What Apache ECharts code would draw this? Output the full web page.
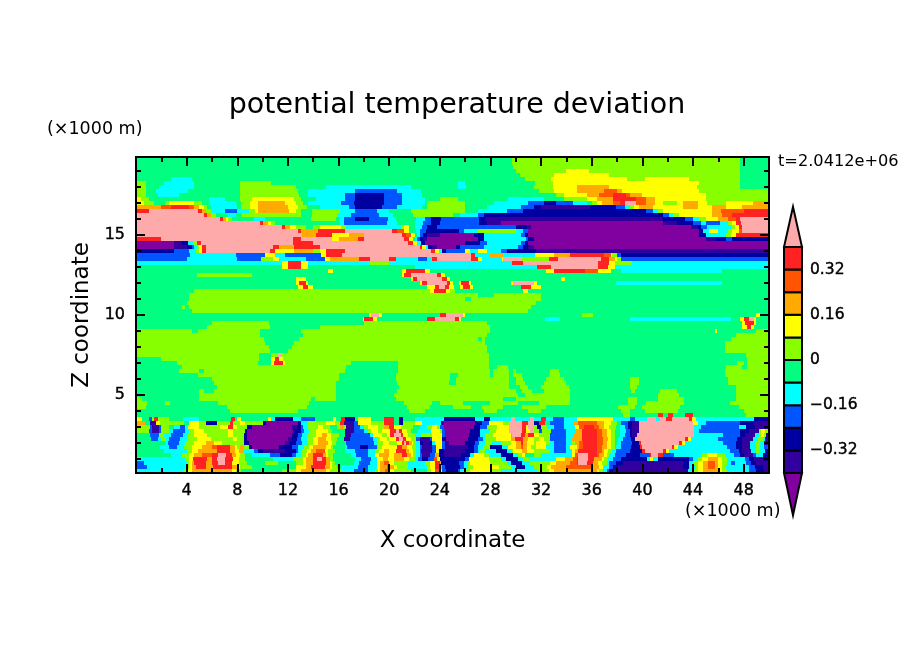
<!DOCTYPE html>
<html lang="en">
<head>
    <meta charset="UTF-8">
    <title>potential temperature deviation</title>
    <style>html,body{margin:0;background:#fff}</style>
    <script src="https://cdn.jsdelivr.net/npm/echarts@6/dist/echarts.min.js"></script>
</head>
<body>
<div id="main" style="width:904px;height:654px"></div>
<script>
    // shading bands, lowest first: a = below -0.40 ... l = above 0.40
    var bandNames = "abcdefghijkl";
    var bandColors = ["#8000a0","#3300a0","#0000a0","#0055ff","#00ffff","#00ff80","#88ff00","#ffff00","#ffaa00","#ff5500","#ff2222","#ffaaaa"];
    var bandEdges = [-0.40,-0.32,-0.24,-0.16,-0.08,0,0.08,0.16,0.24,0.32,0.40];
    var arrowTips = [-0.549,0.542];
    var colorbarTicks = [-0.32,-0.16,0,0.16,0.32];
    var zMajorTicks = [5,10,15];
    var zMinorTicks = [1,2,3,4,6,7,8,9,11,12,13,14,16,17,18,19];
    var xLimits = [0,50];
    var zLimits = [0.125,19.875];
    var rowHeight = 0.25;

    // each row: band letter + x (km) where that band ends. rows go from z=19.75 down
    var upperRows = [
        "f29.7g47.7f50", // 19.75
        "f29.7g47.7f50",
        "f29.8g47.7f50",
        "f30g34h35.8g47.7f50", // 19
        "f30.3g33h37.4g47.7f50",
        "f2.8e4.4f30.7g32.8h38.8g40.2h43.7g47.7f50",
        "g0.8f2.2e4.6f8.2g10.7f25.4e26f31.5g32.9h44.5g47.7f50",
        "g0.8f1.8e4.6f8.2g12.6f15e21.7f25.4e26.1f31.4g32.9h34.8i37.4h44.3g47.7f50", // 18
        "g0.8f1.6e4.1f8.2g12.8f13.6e17.3d20.6e22.5f31.8g33h34.8i37j38i38.4h44.5g50",
        "g0.8f1.7e3.4f8.2g12.9f13.6e16.5d17.3c19.6d21e22.6f33.2g33.8h35.6i36.6j37.7k38.7j39i40h45g50",
        "h0.4g1f5.8e7f8.2g9.2h12.5g13f14.2e16.5d17.3c19.6d21e22.8f24g25.4f29.4e32.2f33.8g35.6h36.4i37.7k39.5j40.3i41h45g50",
        "h0.6g1.4f2.3g2.6h4.6g5.2f5.8e7.9f8.3g9h9.6i11.8h12.6g13.2f13.6e16.2d17.2c19.6d21e22.8f23g26f28.3e31d32.2c33.2d34.5e35.6f36g36.4h36.8i37.7j38.2k38.6l39.5j40.3i41h41.6g42.7h43.2i44.4h45.1g46.6h48.7i50", // 17
        "i2j2.8k4.2j4.6i5h5.4g5.6f5.9e8f8.3g9h9.6i12h12.8g13.5f14.5e16.8d17.3c19.4d20.6e22.6f23g26f27.7e30.4d31.4c32b35.9c37.9d38.6e39g39.3h39.7i40.8h43.2i44.4h45.5i46.6h47.9i50",
        "k1l4.9k5.2i5.5g5.9e7d8e8.9g9.4h9.6i12.1h12.6g13f13.9g16.1e17.3d19e20f21.7g26f27e29.3d30.6c40.3d40.8e41.2g41.6h45.5i46.2j48k50",
        "l5.4k5.6i5.9g6.3f7.3e7.9f8.4g13f13.9g15.9e17d19.2e20.3f21.9g25f25.6e27d27.5c41.6d42.1e42.4g42.9h45.5i46.3j47.1k50",
        "l6.6k6.9i7.1h7.3g7.6f9.3e10.2f13.8g15.8f16.1e16.4d17.3c18.4d19.9e20.5f22.1e22.8d23.3c24.1d27.1c27.6b41.6c43.4d44e44.5g45h46i46.8j47.4k47.7l50", // 16
        "l9.8k10i10.4h10.7g11f16e16.4d19.8e20.6f22e22.7d23.3c24d27.1c27.7b28.8a41.6b42.7c44d44.6e45d46.1e46.8g47.1h47.4k47.8l50",
        "l11.5k11.8i12.2h12.6g13.4f14g14.5h16.2g16.6e20.9g21.2h21.6f22e22.6d23c23.8d30c30.9b31.2a43.8b44.4c44.6d45.1e47g47.3h47.6k47.9l50",
        "l12.8k13i14.4k16.5l20.2k20.6j21.2h21.6f22.1e22.4d22.9c25.5d25.9e27g30e30.6d31a44.5c44.8e45.3h46e46.8g47.1h47.6j47.9l50",
        "l13.1i14.2k15.5h16.8i18l21k21.3j21.7h22f22.2e22.4d22.7c23b24a26.7c27.5e30.4d30.7c31a44.5c45e46.6g47h47.4k50", // 15
        "k2l12.4k13l15.5h16i17.5k18l21.2k21.6h21.9f22e22.2d22.4c22.7b23a27c27.5e30.8d31c31.4a45b45.8c46.6d47.1c50",
        "a3b3.6c4.1e4.5g4.8k5.1l12.4k14l21.5k21.9h22.2e22.5c22.8a26c27.2d27.7e30.4d30.7c31a50",
        "a3b4c4.4d4.6e4.8g5h5.2k5.5l10.8k11.3i12.5k14.5l22.4k22.6h22.9e23.1c23.4b23.8a25.3c25.6d27.5e30.2d30.6c31b31.4a50",
        "c3d4.2e4.7g5h5.2k5.5l10.6k11h12.5i14g14.5h15k16.5l23.3k23.6h23.9e24.2c24.5d26h26.4e27h27.7e28.8d29.3c31.6b50", // 14
        "d4.3e7.9d10.2h11e11.8d14.6h15k16.3l26.5k26.8e28i29e31.5h33i34.3k37j37.5h37.6g38d38.3c50",
        "d4e8d9.9g10.8h11.3e13.4d14.9h15.3i17.6k18.5l20k20.5e22.3d23e23.4k23.8l26.5k27h27.3e28.9h29l30.5g32.6k33.3l36.7k37.4i37.8h38g38.3d50",
        "e11.5h12k13h13.6e18.5g20e29.7k30.6l36.5k37.4h37.8g39.2e50",
        "f11.5h12k13h13.6f22e31.7k32.8l36.5k37.3h37.8e50", // 13
        "f15.2h15.6f21h21.3k22.8h23.2f32.4h33k35.5j36.5h37.5f38.3e46.3f50",
        "f4.8g9.2f21h21.2k21.7l23.8k24.1h24.4f50",
        "f12.6h13.4f21.7h21.9k22.2l24.2k24.6h24.8f33.6h33.9f50"
    ];
    var middleRows = [
        "f12.6h12.9k13.4h13.6f22.4h22.6k23l24.6k24.8h25f25.5h25.7k26.3h26.5f29.6h29.8l31.4h31.7f37.9e46.3f50", // 12
        "f12.8h13.2k13.6h14f23h23.6k23.9l24.4k24.7h25.1f25.6h25.8k26.4h26.6f30.4k31.2h32f50",
        "f4.6g23.2h23.5k24.5h24.8g25.2f26f30.6h31f50",
        "f4.2g27f28.3g32f50",
        "f4.2g26f26.5g32f50", // 11
        "f4g31.6f50",
        "f3.6g3.9f4.2g31.2f50",
        "f4.4g31f50",
        "f18.4h18.6l19.2h19.4f24k24.5l25.8h26f35.2g36.1f49h49.3f50", // 10
        "f17.9h18k18.7h19f23k23.6l25.2k25.5h25.7f32.3e33.5f39e47f47.7h48k48.4l48.8h49f50",
        "f6g10.5f18g27.7f47.9h48.1k48.8h49f50",
        "f5.6g10.6f14.5g28f47.9h48.3k48.6h48.8f50",
        "g4.4f4.9g9.8f13g28f45.7h45.9f49g50", // 9
        "g9.8f13.2g27.7f47.4g50",
        "g10.1f12.9g27f27.3g27.6f47g50",
        "g10.2f12.5g27.6f46.5g50",
        "g10.5f12.3g27.7f46.5g50", // 8
        "g10.6f12g27.7f46.5g50",
        "g9.7f10.7g11.2l11.5g27.9f48.2g50",
        "f2g9.7f10.7h11k11.3h11.6g27.9f48.3g50",
        "f3.2g9.6f10.7h10.9k11.6h11.8g17f20.7g27.9f47.5g48f48.3g50", // 7
        "f3.6g16.6f20.7g27.9f28.5g29.4f46.6g47.9f48.3g50",
        "f3.4g5f5.4g16.5f20.7g28f28.2g29.5f29.8g30f32.7g33.4f46.5g50",
        "f4.9g16f20.5g24.8f25.4g28f28.2g29.5f29.8g30.5f32.6g33.5f46.5g50",
        "f6g16f20.5g24.8f25.3g29.5f30g30.6f32.4g33.8f39g39.7f46.8g50", // 6
        "f6.2g15.8f20.6g24.7f25.3g29.5f30g30.7f32.2g34f39g39.7f46.8g50",
        "f6.4g15.8f20.8g29.5f30.3g31f32g34.2f39g39.6f47.4g50",
        "f5g5.4f6.2g15.8f20.6g30f30.5g31.3f32.2g34.3f39.1g39.4f41.4g42.7f47.4g50",
        "f5g15.8f20.4g30.2f30.7g34.3f41.2g42.9f47.4g50", // 5
        "g0.5f5g13.8f14.1g15.8f20.5g29f30g34.3f38.9g39.6f41.2g43.3f47.4g50",
        "g0.9f2.3g2.7f6.5g13.7f21.2g23.4f24g25.8f28g30.2f31.8g34.3f38.9g39.6f40.3g43.3f46.9g50",
        "g0.8f7.2g13.5f21.4g23.2f25g26.5f27.3g29f30.5g32.4f38.1g39.4f40g43f47.6g50",
        "f7.4g12.8f21.6g22.8f27.5g28.5f31g32f38.3g39f40.2g42.8f48g50", // 4
        "f38.5g39f41.2k41.6f42k42.4f43.4k44f48.2g50"
    ];
    var lowerRows = [
        "h0.5f1d1.3g1.45k1.7g2.6f3.7e5f7.5k7.8f8h8.3f10.4h10.7e11c12.4e13d14.1f15.6h15.8f16.2k16.5c17.3f17.5h18.6f19.6k20.4f20.8c21.1f22e24.3c26.8e27.5c28e29.6l29.9e31.1l31.4e32k32.4e32.9d33.8e34.8h37.7e39d39.4e40.4l41.1e41.4l41.9k42.3l43.7k43.9h44.2e48.8c50", // 3.5
        "i0.7f1.1b1.6h1.9g3.8f4.2h5g5.5c6.4g7.4k7.7g8.2h8.6g10c10.3a12.8c13e13.6g15h15.7g16.1k16.4b17.2d17.5h18.6g19.6k20.4f20.8c21.1g22h22.6e24.1b24.3a26.8c27.3d27.9h29g29.5l30.5k31l31.4c31.8k32.3f32.7d33.8e34.6i34.9j36.4i37h37.5g38f38.3d38.9c39.2b39.7l44h44.4e45d47.7c48.8b50",
        "g1.1d1.3b1.8d2g2.6f3e3.5d3.9e4.1h5g6.6h7.3k7.7h8g8.8c9.2a12.3b12.7c13d13.2e13.6g14.4h14.8g15.3f15.9g16.1i16.4g16.6b17.2d17.7e18g18.3h19.1g19.6i20k20.4h20.9g21.9f22.4e23g23.4h23.8g24d24.3a26.7c27.2d27.7g28.5h29.5l30.5k30.8h31l31.4g31.7c32g32.5e33d33.8e34.7h35j35.4k36.2j36.6i37h37.4g37.9f38.2e38.6d38.9c39.2b39.7l44.1e44.6d47.6e48.2c48.9b50", // 3
        "g1d1.3b1.8d2g2.6e2.9d3.9e4.2g4.6h5.4g7.3h7.7g8.6c8.8a12.4c13d13.3e13.7g14.2h15.2g15.5f16.5b17.2d18e18.3g18.6h19.1g19.4h20.1k20.5l20.8k21h21.4g21.7f22.3e23.3h24g24.2d24.4a26.4c27.2e28g28.4h29.5l30.5k30.8h31.1l31.4g31.8d32.1g32.8d34e34.7i35.2k36.4j36.8i37.2h37.5g37.8f38.2e38.7d39c39.2b39.7l44.1e44.5d47.7c48.4b49.2g49.4h49.7g49.9b50",
        "f1.1d1.8g2.2e2.8d3.7e4.1g4.6h5.6g7.3h7.7g8.5c8.8a12.3c12.8d13.1e13.6g14.2h14.7i15.1h15.4g16f16.5b17d18.5e18.7h19.4g19.8h20.1k20.4l20.9k21.1h21.5g22e22.5g23.4h24.2d24.4a26.3c27.2e27.6g28.2h29.6i29.7l30.4k30.7i31k31.4h31.8g32.7d34e34.5i35.2k36.4j36.8i37.2h37.5g37.8f38.2e38.6d39c39.2b39.6l44.1e46.4d47.7c48.1b48.9e49.2g49.4h49.6g49.8b50",
        "f1.2d1.7e2g2.4e2.6d3.5e4g4.8h5.9g7.7h8g8.5c8.8a12b12.3c12.7d13e13.5g14h14.4i15h15.4g15.9f16.4b16.9d18.7e19g19.3h19.8g20h20.5k20.8l21.1k21.3h21.7g22.1e22.1d22.4b23.2d23.4h24.2c24.5a26.2c27d27.4e27.6g28.4h29.6i29.9k30.6i31h31.4g31.8h32.2g32.7d34e34.4i35.2k36.4j36.9i37.3h37.5g37.8f38.1e38.5d39.1c39.4l43.4k43.6h43.8e46d47.5c47.9b48.7e49.1g49.5e49.7b50",
        "f2.3e2.5d3.4e3.9g4.6h5.5i6.2h6.8g8.5c8.9a11.8b12.2c12.6d13.1e13.6g14h14.4i15.2h15.5g15.8f16.6d18.8e19.1g19.5h20g20.6h21k21.2l21.3k21.6i21.8h21.9g22.1e22.4c22.7b23.2c23.4e23.6h24.2d24.4b24.7a26c26.8d27.1e27.6g28.1e28.8g29.6h30i30.4k30.6i30.9h31.4g31.6h32.4g32.7e33d34e34.4g34.7i35j35.3k36.4j36.9i37.2h37.5g37.8f38e38.3d39.2c39.7k39.9l42.9k43.1h43.4e46.4d47.4c47.9b48.5e48.9g49.3e49.6b50", // 2
        "f1.9e2.6d3.2e3.8g4.4h5.2i6j6.4k7.4i7.8h8g8.2i8.5g8.9c9.2a11.3c12.3d12.8e13.3g13.7h14i15h15.4g15.6f16.5e16.7d17.7c18.3d19e19.1g19.4h20.6k21i21.4h21.8g22.1e22.4d22.6b23.4d23.7h24.2d24.4b26.2c26.7d27e27.4g28c28.9e29.4h30i30.4j30.6i30.9h31.2g31.6h32.4e33d34e34.3h34.8i35j35.3k36.4j36.8i37.2h37.5g37.8f37.9e38.3d39.1c39.8k40l42.3k42.5h42.8e46.7d47.4c47.9b48.5e49g49.3e49.6d50",
        "f2.2e4g4.4h4.9i6.4k7.4i7.8h8.1i8.5e9.3d9.6c10b11.8c12.6d12.8e13.1g13.5h13.8i14.2j14.9h15.2g15.7f16.5e17.3d18.3e18.9g19.2h19.6i20h20.5k21.3i21.6h21.9g22.1e22.4d22.5b23.4d23.7h23.9c24.3b26c26.7d27e27.2g27.6e28.4c29.3e29.7g29.8h30.5i30.9h31.4g32.7e33d34e34.4h34.7i34.9k36.4j36.8i37h37.3g37.6e37.9d39c40k40.2l41.6k41.9h42.1e46.9d47.6c47.9b48.6e49g49.3e49.7c50",
        "f2.8e3.6g4.2h4.6i5.2j6k6.5l7.1k7.6i7.9h8.2g8.6f9.2e10.6d11.4c12.3d12.6e13g13.4h13.6i14k14.8i15h15.2g15.6f17e17.4d18.3e18.9h19.2i20h20.4i21k21.4i21.7h21.9g22.1e22.4d22.6b23.2d23.6i23.9c24.3b25.7c26.4e26.7h27.5g27.9e28.8c29.8e30.2g30.5h30.7f31.4g32e34.4h34.7j34.9l35.7k36.4j36.6i37h37.2g37.4e37.8d38.7c39.8d40.6k40.7l41.2k41.6d42.5e44.7g45.1h45.9g46.5e47.2d47.7c48b48.7d49e49.5c50",
        "e3.9g4.2h4.5k5.6i6k6.4l7k7.7h8.1g8.6f10.8e12.4g13.2h13.4i14k14.3l14.7k15i15.3g15.6f17.3e17.8d18.6e19h19.5i19.9h20.4i21.2h21.6g22e22.3d22.6c23.1d23.5j23.8h24c26d26.3h27.9g28.8e29.2c30.2e30.6g31.1e33.2h33.9i34.5j34.8k34.9l35.7k36.2i36.8h37g37.3e37.7d38.3c40.4e40.6h40.8e41.2c43.7d44e44.4g44.7h45.2i46h46.3g46.7e48.1d48.4c48.8b49.5c50", // 1
        "d0.6e4g4.2h4.4i4.6k5.5i6k6.5l7k7.6h8.1g8.8f10.2g11.2f12.6g13.2h13.4i14k15i15.3h15.5g15.7f17.2e17.6d18.5e19h19.3i19.6j20h20.4g21.5e22.8g23.2h23.6k24i24.1c25.5d25.9e26.2g26.4h28g29.3e29.6c30.5e31.1g32.7h33.2i34.3j34.8k34.9l35.6k36.1i36.5h36.8g37.2e37.4d37.9c38.5b43.2c43.7e44g44.4h44.8i45.2j45.7i46h46.3g46.7e47d47.3e48.2d48.6c49b50",
        "d0.9e4g4.2h4.4i4.7k5.5i6.1k7.6i8h8.2g9.2f12.6h13.4i13.8k14.9i15.3h15.5g15.9f16.2e17.5d18.3e19h19.3i19.8j20.1i20.4h20.6g21.5e23g23.2h23.6k24i24.2d24.4c25.6d25.9e26.2g26.6h28.7g29.6e30c30.7e31.4g32.5h32.8i34j36.1i36.6h36.9g37e37.4d37.7c38.1b43.2c43.7e44.2g44.4h44.8i45.2j45.7i46h46.3g46.6e48.4d48.9c49.5b50",
        "e3.8g4h4.4i7.6h7.9g8.3f11.5g12.6h13i15h15.3g16.2e17.2d18.3e18.9g19.1h19.3i19.7j20.1h20.4g21.7f23g23.3h23.6j24h24.2d24.5c25.4d25.6e25.9g26.4h28g28.8e31.7g32.6h33i36.4h36.6g36.9e37.2d37.4c37.7b43.6e44g44.4h44.8i46h46.3g46.7e48.4d49c49.6b50" // 0.25
    ];

    var allRows = upperRows.concat(middleRows, lowerRows);
    var fieldData = [];
    allRows.forEach(function (row, i) {
        var zMid = 19.75 - i * rowHeight;
        var start = 0;
        row.replace(/([a-l])([\d.]+)/g, function (m, band, end) {
            fieldData.push([start, +end, zMid - rowHeight / 2, zMid + rowHeight / 2, bandNames.indexOf(band)]);
            start = +end;
        });
    });

    var barData = [];
    bandEdges.slice(1).forEach(function (top, i) {
        barData.push([bandEdges[i], top, i + 1]);
    });

    function renderField(params, api) {
        var p0 = api.coord([api.value(0), api.value(3)]);
        var p1 = api.coord([api.value(1), api.value(2)]);
        var x = Math.round(p0[0]), y = Math.round(p0[1]);
        return {
            type: 'rect',
            shape: {x: x, y: y, width: Math.round(p1[0]) - x, height: Math.round(p1[1]) - y},
            style: {fill: bandColors[api.value(4)]}
        };
    }
    function renderBar(params, api) {
        var p0 = api.coord([0, api.value(1)]);
        var p1 = api.coord([1, api.value(0)]);
        return {
            type: 'rect',
            shape: {x: p0[0], y: p0[1], width: p1[0] - p0[0], height: p1[1] - p0[1]},
            style: {fill: bandColors[api.value(2)], stroke: '#000', lineWidth: 2}
        };
    }
    function renderArrow(params, api) {
        var base = api.value(0), tip = api.value(1);
        var a = api.coord([0, base]), b = api.coord([1, base]), c = api.coord([0.5, tip]);
        return {
            type: 'polygon',
            shape: {points: [a, b, c]},
            style: {fill: bandColors[api.value(2)], stroke: '#000', lineWidth: 2}
        };
    }

    var font = 'DejaVu Sans';
    function boxAxis(position, showLabel, ticks, tickLen) {
        return {
            type: 'value', position: position, min: zLimits[0], max: zLimits[1], z: 10, gridIndex: 0,
            splitLine: {show: false},
            axisLine: {show: true, lineStyle: {color: '#000', width: 2}},
            axisTick: {show: true, inside: true, length: tickLen, customValues: ticks, lineStyle: {color: '#000', width: 2}},
            axisLabel: {show: showLabel, customValues: ticks, color: '#000', fontFamily: font, fontSize: 16, margin: 11, textBorderColor: '#000', textBorderWidth: 0.4}
        };
    }
    function xBoxAxis(position, showLabel) {
        return {
            type: 'value', position: position, min: xLimits[0], max: xLimits[1], interval: 4, z: 10, gridIndex: 0,
            splitLine: {show: false},
            axisLine: {show: true, lineStyle: {color: '#000', width: 2}},
            axisTick: {show: true, inside: true, length: 9, lineStyle: {color: '#000', width: 2}},
            minorTick: {show: true, splitNumber: 2, length: 5, lineStyle: {color: '#000', width: 2}},
            axisLabel: {show: showLabel, showMinLabel: false, showMaxLabel: false, color: '#000', fontFamily: font, fontSize: 16, margin: 10, textBorderColor: '#000', textBorderWidth: 0.4}
        };
    }
    var yLeft = boxAxis('left', true, zMajorTicks, 9);
    yLeft.name = 'Z coordinate';
    yLeft.nameLocation = 'middle';
    yLeft.nameGap = 40;
    yLeft.nameTextStyle = {color: '#000', fontFamily: font, fontSize: 23};
    var xBottom = xBoxAxis('bottom', true);
    xBottom.name = 'X coordinate';
    xBottom.nameLocation = 'middle';
    xBottom.nameGap = 57;
    xBottom.nameTextStyle = {color: '#000', fontFamily: font, fontSize: 23};

    var myChart = echarts.init(document.getElementById('main'), null, {renderer: 'canvas'});
    myChart.setOption({
        animation: false,
        backgroundColor: '#fff',
        title: {
            text: 'potential temperature deviation', left: 452, top: 86, textAlign: 'center',
            textStyle: {color: '#000', fontFamily: font, fontSize: 28.5, fontWeight: 'normal'}
        },
        grid: [
            {left: 136, top: 157, width: 633, height: 316},
            {left: 784, top: 247, width: 18, height: 226}
        ],
        xAxis: [
            xBottom,
            xBoxAxis('top', false),
            {type: 'value', gridIndex: 1, min: 0, max: 1, show: false}
        ],
        yAxis: [
            yLeft,
            boxAxis('left', false, zMinorTicks, 5),
            boxAxis('right', false, zMajorTicks, 9),
            boxAxis('right', false, zMinorTicks, 5),
            {
                type: 'value', gridIndex: 1, position: 'right', min: bandEdges[0], max: bandEdges[10],
                splitLine: {show: false}, axisLine: {show: false}, axisTick: {show: false},
                axisLabel: {
                    customValues: colorbarTicks, color: '#000', fontFamily: font, fontSize: 15.5, margin: 8,
                    textBorderColor: '#000', textBorderWidth: 0.4,
                    formatter: function (v) { return v < 0 ? '\u2212' + Math.abs(v) : String(v); }
                }
            }
        ],
        series: [
            {type: 'custom', xAxisIndex: 0, yAxisIndex: 0, renderItem: renderField, data: fieldData, clip: true, encode: {x: [0, 1], y: [2, 3]}, silent: true},
            {type: 'custom', xAxisIndex: 2, yAxisIndex: 4, renderItem: renderBar, data: barData, encode: {y: [0, 1]}, silent: true},
            {type: 'custom', xAxisIndex: 2, yAxisIndex: 4, renderItem: renderArrow, silent: true,
                data: [[bandEdges[0], arrowTips[0], 0], [bandEdges[10], arrowTips[1], 11]], encode: {y: [0]}}
        ],
        graphic: [
            {type: 'text', left: 47, top: 120, style: {text: '(\u00d71000 m)', fill: '#000', font: '17.5px "DejaVu Sans"'}},
            {type: 'text', left: 685, top: 502, style: {text: '(\u00d71000 m)', fill: '#000', font: '17.5px "DejaVu Sans"'}},
            {type: 'text', left: 778, top: 154, style: {text: 't=2.0412e+06', fill: '#000', font: '16.2px "DejaVu Sans"'}}
        ]
    });
</script>
</body>
</html>
